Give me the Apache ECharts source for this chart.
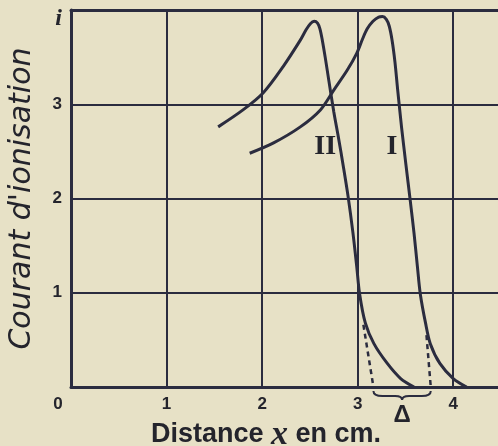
<!DOCTYPE html>
<html>
<head>
<meta charset="utf-8">
<script src="https://cdn.jsdelivr.net/npm/echarts@6/dist/echarts.min.js"></script>
<style>
  html, body { margin: 0; padding: 0; background: #e7e1c6; }
  #chart { width: 498px; height: 446px; }
</style>
</head>
<body>
<div id="chart"></div>
<script>
// Ionisation current along the path, two sources (I and II)
const xTicks = [0, 1, 2, 3, 4];
const yTickLabels = { 0: '', 1: '1', 2: '2', 3: '3', 4: 'i' };

// curve I : [distance cm, current]
const curveI = [
  [1.87, 2.48], [2.12, 2.59], [2.40, 2.76], [2.61, 2.94], [2.75, 3.15],
  [2.89, 3.36], [2.99, 3.54], [3.05, 3.69], [3.10, 3.80], [3.16, 3.88],
  [3.22, 3.925], [3.26, 3.93], [3.30, 3.90], [3.33, 3.83], [3.36, 3.68],
  [3.39, 3.45], [3.42, 3.14], [3.46, 2.75], [3.505, 2.36], [3.55, 1.98],
  [3.59, 1.63], [3.625, 1.28], [3.655, 0.99], [3.71, 0.68], [3.76, 0.46],
  [3.86, 0.25], [4.00, 0.09], [4.14, 0.0]
];

// curve II
const curveII = [
  [1.54, 2.76], [1.80, 2.94], [2.01, 3.12], [2.22, 3.40], [2.40, 3.68],
  [2.46, 3.79], [2.505, 3.855], [2.545, 3.88], [2.58, 3.86], [2.605, 3.80],
  [2.63, 3.68], [2.66, 3.50], [2.70, 3.24], [2.75, 2.92], [2.80, 2.64],
  [2.85, 2.34], [2.90, 2.02], [2.95, 1.64], [2.99, 1.28], [3.02, 0.99],
  [3.08, 0.68], [3.17, 0.46], [3.31, 0.25], [3.45, 0.09], [3.59, 0.0]
];

// straight-line extrapolation of the steep fall to the axis
const extrapI = [[3.72, 0.55], [3.765, 0.0]];
const extrapII = [[3.06, 0.66], [3.165, 0.0]];

// range between the two extrapolated ends
const braceRange = [3.165, 3.765];
const braceLabel = 'Δ';

const labelI = { name: 'I', coord: [3.36, 2.55] };
const labelII = { name: 'II', coord: [2.66, 2.55] };

const ink = '#2b2c3f';
const textInk = '#24242c';

const chart = echarts.init(document.getElementById('chart'), null, { renderer: 'canvas' });

function curveLabel(item) {
  return {
    symbol: 'circle', symbolSize: 0, silent: true,
    data: [{ name: item.name, coord: item.coord }],
    label: {
      show: true, position: 'inside', formatter: '{b}',
      fontFamily: '"Liberation Serif", serif', fontWeight: 'bold',
      fontSize: 28, color: textInk
    },
    itemStyle: { color: 'transparent' }
  };
}

const option = {
  backgroundColor: '#e7e1c6',
  animation: false,
  grid: { left: 71, right: -3, top: 10, bottom: 59, outerBoundsMode: 'none', containLabel: false },
  xAxis: [{
    type: 'value', min: 0, max: 4.5, interval: 1,
    name: 'Distance {s|x} en cm.', nameLocation: 'middle', nameGap: 28,
    nameTextStyle: {
      fontFamily: '"Liberation Sans", Arial, sans-serif', fontWeight: 'bold',
      fontSize: 27, color: textInk, padding: [0, 40, 0, 0],
      rich: {
        s: { fontFamily: '"Liberation Serif", serif', fontStyle: 'italic', fontWeight: 'bold',
             fontSize: 34, color: textInk }
      }
    },
    axisLine: { show: true, onZero: false, lineStyle: { color: ink, width: 3 } },
    axisTick: { show: false },
    splitLine: { show: true, lineStyle: { color: ink, width: 2 } },
    axisLabel: {
      margin: 9, showMaxLabel: false,
      formatter: v => (xTicks.indexOf(v) < 0 ? '' : (v === 0 ? '{z|0}' : String(v))),
      fontFamily: '"Liberation Sans", Arial, sans-serif', fontWeight: 'bold',
      fontSize: 17, color: textInk,
      rich: { z: { fontFamily: '"Liberation Sans", Arial, sans-serif', fontWeight: 'bold',
                   fontSize: 17, color: textInk, padding: [0, 26, 0, 0] } }
    }
  }, {
    type: 'value', position: 'top', min: 0, max: 4.5, interval: 1,
    axisLine: { show: true, onZero: false, lineStyle: { color: ink, width: 3 } },
    axisTick: { show: false }, axisLabel: { show: false }, splitLine: { show: false }
  }],
  yAxis: {
    type: 'value', min: 0, max: 4, interval: 1,
    name: "Courant d'ionisation", nameLocation: 'middle', nameGap: 34, nameRotate: 90,
    nameTextStyle: {
      fontFamily: '"DejaVu Sans", sans-serif', fontStyle: 'italic',
      fontSize: 30, color: textInk
    },
    axisLine: { show: true, onZero: false, lineStyle: { color: ink, width: 3 } },
    axisTick: { show: false },
    splitLine: { show: true, lineStyle: { color: ink, width: 2 } },
    axisLabel: {
      margin: 9,
      formatter: v => (yTickLabels[v] === 'i' ? '{i|i}' : (yTickLabels[v] || '')),
      fontFamily: '"Liberation Sans", Arial, sans-serif', fontWeight: 'bold',
      fontSize: 17, color: textInk,
      rich: { i: { fontFamily: '"Liberation Serif", serif', fontStyle: 'italic', fontWeight: 'bold',
                   fontSize: 24, color: textInk, padding: [18, 0, 0, 0] } }
    }
  },
  series: [
    {
      name: 'I', type: 'line', data: curveI, smooth: 0.3,
      showSymbol: false, lineStyle: { color: ink, width: 3 }, z: 4,
      markPoint: curveLabel(labelI)
    },
    {
      name: 'II', type: 'line', data: curveII, smooth: 0.3,
      showSymbol: false, lineStyle: { color: ink, width: 3 }, z: 4,
      markPoint: curveLabel(labelII)
    },
    {
      type: 'line', data: extrapI, showSymbol: false, z: 3,
      lineStyle: { color: ink, width: 2.5, type: [5, 4] }
    },
    {
      type: 'line', data: extrapII, showSymbol: false, z: 3,
      lineStyle: { color: ink, width: 2.5, type: [5, 4] }
    },
    {
      type: 'custom', clip: false, silent: true, z: 5,
      data: [braceRange],
      encode: { x: [0, 1] },
      renderItem: function (params, api) {
        const a = api.coord([api.value(0), 0]);
        const b = api.coord([api.value(1), 0]);
        const x0 = a[0], x1 = b[0], xm = (x0 + x1) / 2;
        const yt = a[1] + 4, yh = a[1] + 9, yp = a[1] + 13;
        const d = 'M' + x0 + ' ' + yt +
          ' Q' + x0 + ' ' + yh + ' ' + (x0 + 9) + ' ' + yh +
          ' L' + (xm - 7) + ' ' + yh +
          ' Q' + xm + ' ' + yh + ' ' + xm + ' ' + yp +
          ' Q' + xm + ' ' + yh + ' ' + (xm + 7) + ' ' + yh +
          ' L' + (x1 - 9) + ' ' + yh +
          ' Q' + x1 + ' ' + yh + ' ' + x1 + ' ' + yt;
        return {
          type: 'group',
          children: [
            { type: 'path', shape: { pathData: d },
              style: { fill: 'none', stroke: ink, lineWidth: 2 } },
            { type: 'text', x: xm, y: a[1] + 28,
              style: { text: braceLabel, align: 'center', verticalAlign: 'middle',
                       textAlign: 'center', textVerticalAlign: 'middle',
                       font: 'bold 24px "Liberation Sans", Arial, sans-serif', fill: textInk } }
          ]
        };
      }
    }
  ]
};

chart.setOption(option);
</script>
</body>
</html>
